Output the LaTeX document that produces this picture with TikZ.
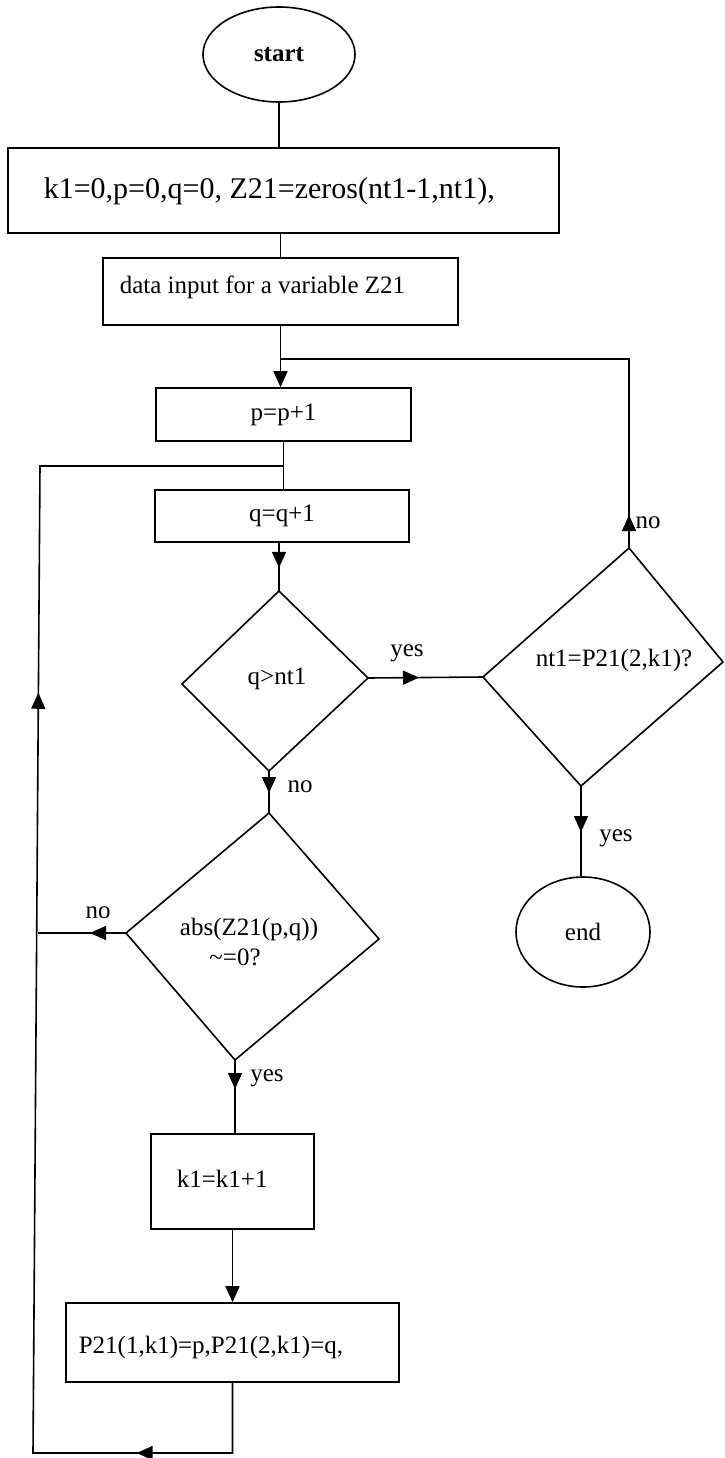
\documentclass[tikz,border=0pt]{standalone}
\usepackage{fontspec}
\setmainfont{Liberation Serif}
\usetikzlibrary{arrows.meta,decorations.markings,shapes.geometric}
\newcommand{\myfs}{\fontsize{25}{30}\selectfont}
\tikzset{
  >={Triangle[length=16pt,width=14pt]},
  lbl/.style={inner sep=0pt, font=\myfs},
  boxnode/.style={draw, rectangle, inner sep=0pt, font=\myfs},
  term/.style={draw, ellipse, inner sep=0pt, font=\myfs},
  endtip/.style={-{Triangle[length=16pt,width=14pt]}},
  midtip/.style={postaction={decorate}, decoration={markings, mark=at position #1 with {\arrow{>}}}},
}
\begin{document}
\begin{tikzpicture}[x=1pt, y=-1pt, line width=1.6pt]
\useasboundingbox (0,0) rectangle (724,1458);

% terminals and boxes
\node[term, minimum width=152pt, minimum height=95pt, font=\bfseries\myfs] (start) at (279,54.5) {start};
\node[boxnode, minimum width=551pt, minimum height=85pt] (init) at (283.5,190.5) {};
\node[lbl, anchor=west, font=\fontsize{30}{36}\selectfont] (initt) at (43,191) {k1=0,p=0,q=0, Z21=zeros(nt1-1,nt1),};
\node[boxnode, minimum width=355pt, minimum height=67pt] (input) at (280.5,291.5) {};
\node[lbl, anchor=west] (inputt) at (119,287) {data input for a variable Z21};
\node[boxnode, minimum width=255pt, minimum height=53pt] (pbox) at (283.5,414.5) {p=p+1};
\node[boxnode, minimum width=254pt, minimum height=52pt] (qbox) at (282,516) {q=q+1};
\node[boxnode, minimum width=163pt, minimum height=95pt] (kbox) at (232.5,1181.5) {};
\node[lbl, anchor=west] (kboxt) at (176,1179) {k1=k1+1};
\node[boxnode, minimum width=333pt, minimum height=79pt] (pbox2) at (232.5,1342.5) {};
\node[lbl, anchor=west] (pbox2t) at (78,1347) {P21(1,k1)=p,P21(2,k1)=q,};
\node[term, minimum width=134pt, minimum height=110pt] (end) at (583,932) {end};

% decision 1: q>nt1
\coordinate (d1t) at (279,591);
\coordinate (d1r) at (368,678);
\coordinate (d1b) at (269,771);
\coordinate (d1l) at (182,684);
\draw (d1t) -- (d1r) -- (d1b) -- (d1l) -- cycle;
\node[lbl] (d1txt) at (277,679) {q>nt1};

% decision 2: nt1=P21(2,k1)?
\coordinate (d2t) at (629,548);
\coordinate (d2r) at (723,662);
\coordinate (d2b) at (581,786);
\coordinate (d2l) at (483,677);
\draw (d2t) -- (d2r) -- (d2b) -- (d2l) -- cycle;
\node[lbl] (d2txt) at (614,660) {nt1=P21(2,k1)?};

% decision 3: abs(Z21(p,q)) ~=0?
\coordinate (d3t) at (269,813);
\coordinate (d3r) at (379,939);
\coordinate (d3b) at (235,1060);
\coordinate (d3l) at (126,933);
\draw (d3t) -- (d3r) -- (d3b) -- (d3l) -- cycle;
\node[lbl] (d3txt1) at (249,929) {abs(Z21(p,q))};
\node[lbl] (d3txt2) at (235,957) {\textasciitilde=0?};

% junction coordinates
\coordinate (jn1) at (280.5,359);
\coordinate (jn2) at (283.5,466);
\coordinate (tl) at (40,466);
\coordinate (bl) at (33,1453);
\coordinate (ml) at (38,933);

% connectors
\draw (start.south) -- (start.south |- init.north);
\draw (input.north) -- (input.north |- init.south);
\draw[endtip] (input.south) -- (input.south |- pbox.north);
\draw[midtip=33pt] (d2t) -- (d2t |- jn1) -- (jn1);
\draw (pbox.south) -- (pbox.south |- qbox.north);
\draw[midtip=25pt] (d1t |- qbox.south) -- (d1t);
\draw[midtip=51pt] (d1r) -- (d2l);
\draw[midtip=22pt] (d1b) -- (d3t);
\draw[midtip=46pt] (d2b) -- (d2b |- end.north);
\draw[midtip=36pt] (d3l) -- (ml);
\draw[midtip=29pt] (d3b) -- (d3b |- kbox.north);
\draw[endtip] (kbox.south) -- (kbox.south |- pbox2.north);
\draw[postaction={decorate}, decoration={markings,
      mark=at position 166pt with {\arrow{>}},
      mark=at position 1030pt with {\arrow{>}}}]
  (pbox2.south) -- (pbox2.south |- bl) -- (bl) -- (tl) -- (jn2);

% branch labels
\node[lbl] (l1) at (407,653) {yes};
\node[lbl] (l2) at (300,787) {no};
\node[lbl] (l3) at (648,523) {no};
\node[lbl] (l4) at (616,838) {yes};
\node[lbl] (l5) at (98,913) {no};
\node[lbl] (l6) at (267,1078) {yes};
\end{tikzpicture}
\end{document}
